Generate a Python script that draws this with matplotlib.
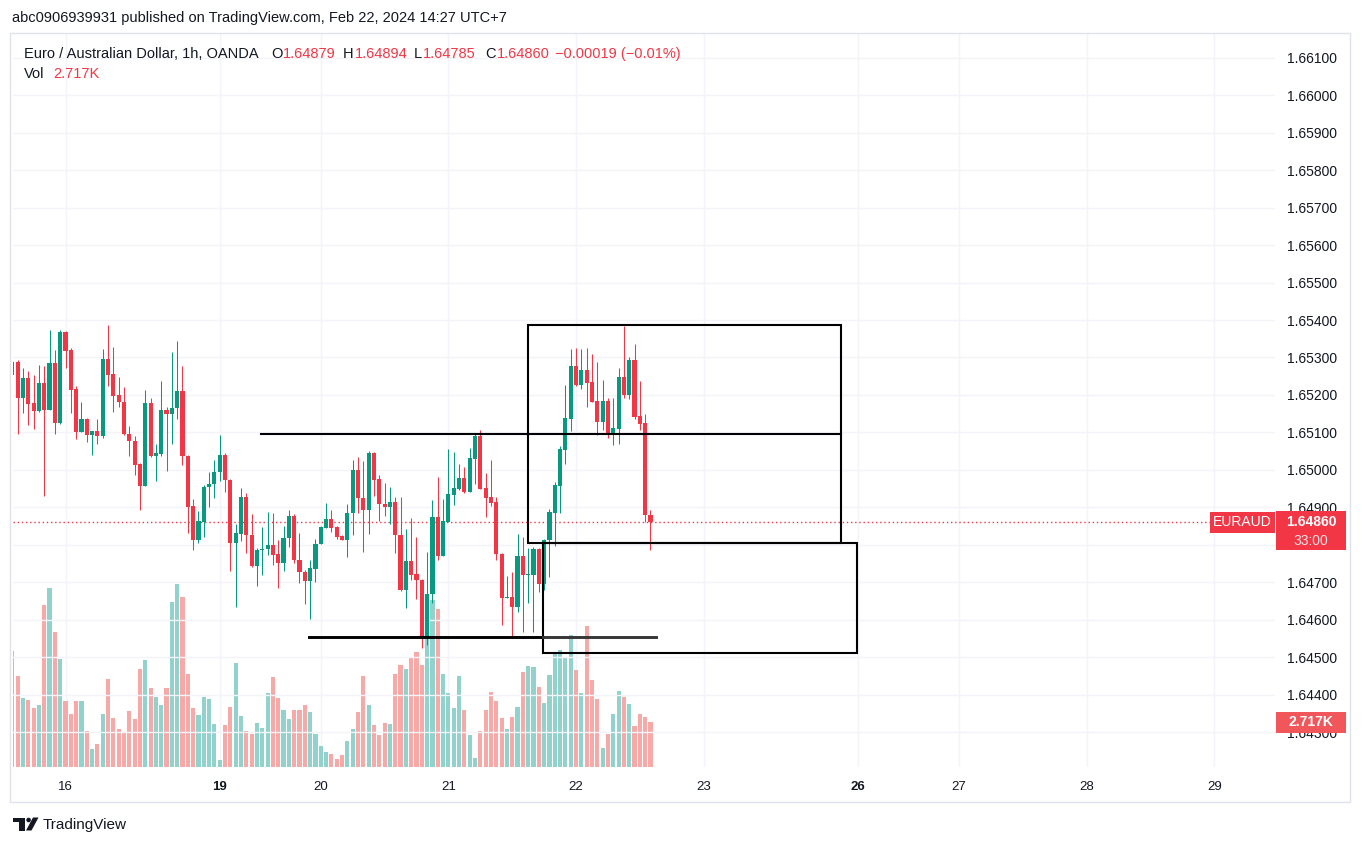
import matplotlib
matplotlib.use("Agg")
import matplotlib.pyplot as plt
from matplotlib.patches import Rectangle, Polygon, Circle
from matplotlib.transforms import IdentityTransform

plt.rcParams['font.family'] = ['Liberation Sans', 'DejaVu Sans']

# ---- data: EURAUD 1h candles, Feb 15 14:00 -> Feb 22 14:00 (UTC+7) ----
opens = [1.65253, 1.65288, 1.65193, 1.65245, 1.65179, 1.65156, 1.65232, 1.65161, 1.65285, 1.65126,
         1.65368, 1.65320, 1.65216, 1.65100, 1.65136, 1.65094, 1.65104, 1.65089, 1.65296, 1.65256,
         1.65200, 1.65181, 1.65095, 1.65077, 1.65016, 1.64958, 1.65179, 1.65038, 1.65043, 1.65160,
         1.65150, 1.65164, 1.65211, 1.65038, 1.64904, 1.64812, 1.64861, 1.64955, 1.64961, 1.64993,
         1.65040, 1.64973, 1.64806, 1.64830, 1.64928, 1.64827, 1.64742, 1.64785, 1.64788, 1.64800,
         1.64776, 1.64750, 1.64817, 1.64877, 1.64760, 1.64728, 1.64702, 1.64736, 1.64801, 1.64845,
         1.64868, 1.64848, 1.64824, 1.64814, 1.64884, 1.65000, 1.64925, 1.64894, 1.65045, 1.64976,
         1.64909, 1.64900, 1.64915, 1.64827, 1.64678, 1.64757, 1.64723, 1.64707, 1.64550, 1.64668,
         1.64875, 1.64769, 1.64861, 1.64934, 1.64950, 1.64979, 1.64941, 1.65030, 1.65091, 1.64952,
         1.64928, 1.64915, 1.64776, 1.64657, 1.64660, 1.64633, 1.64771, 1.64720, 1.64720, 1.64789,
         1.64694, 1.64812, 1.64886, 1.64958, 1.65054, 1.65137, 1.65277, 1.65227, 1.65267, 1.65235,
         1.65184, 1.65128, 1.65184, 1.65093, 1.65109, 1.65248, 1.65200, 1.65293, 1.65144, 1.65125,
         1.64879]
highs = [1.65293, 1.65292, 1.65273, 1.65264, 1.65253, 1.65280, 1.65278, 1.65373, 1.65319, 1.65373,
         1.65370, 1.65324, 1.65224, 1.65181, 1.65139, 1.65104, 1.65136, 1.65323, 1.65387, 1.65328,
         1.65249, 1.65222, 1.65117, 1.65089, 1.65018, 1.65213, 1.65191, 1.65069, 1.65237, 1.65167,
         1.65315, 1.65344, 1.65277, 1.65040, 1.64923, 1.64891, 1.64960, 1.64995, 1.65027, 1.65093,
         1.65046, 1.64975, 1.64856, 1.64952, 1.64938, 1.64883, 1.64792, 1.64848, 1.64888, 1.64886,
         1.64814, 1.64851, 1.64893, 1.64881, 1.64832, 1.64732, 1.64760, 1.64816, 1.64851, 1.64912,
         1.64893, 1.64850, 1.64826, 1.64910, 1.65027, 1.65035, 1.65024, 1.65051, 1.65048, 1.64987,
         1.64965, 1.64955, 1.64928, 1.64928, 1.64843, 1.64872, 1.64822, 1.64708, 1.64780, 1.64920,
         1.64981, 1.64923, 1.65056, 1.65048, 1.65016, 1.65008, 1.65059, 1.65099, 1.65107, 1.64992,
         1.65027, 1.64928, 1.64778, 1.64717, 1.64728, 1.64829, 1.64821, 1.64792, 1.64795, 1.64792,
         1.64815, 1.64896, 1.64968, 1.65064, 1.65227, 1.65323, 1.65325, 1.65323, 1.65325, 1.65309,
         1.65288, 1.65240, 1.65192, 1.65192, 1.65272, 1.65384, 1.65301, 1.65336, 1.65237, 1.65149,
         1.64894]
lows = [1.65249, 1.65096, 1.65153, 1.65121, 1.65108, 1.65155, 1.64929, 1.65161, 1.65096, 1.65123,
        1.65273, 1.65153, 1.65081, 1.65100, 1.65073, 1.65040, 1.65069, 1.65086, 1.65225, 1.65155,
        1.65167, 1.65093, 1.65036, 1.64985, 1.64893, 1.64958, 1.65034, 1.64969, 1.65038, 1.64998,
        1.65068, 1.65135, 1.65013, 1.64831, 1.64785, 1.64804, 1.64822, 1.64902, 1.64926, 1.64970,
        1.64940, 1.64729, 1.64634, 1.64809, 1.64778, 1.64740, 1.64689, 1.64720, 1.64772, 1.64747,
        1.64684, 1.64729, 1.64793, 1.64751, 1.64697, 1.64643, 1.64601, 1.64700, 1.64801, 1.64844,
        1.64833, 1.64815, 1.64812, 1.64766, 1.64825, 1.64884, 1.64780, 1.64830, 1.64929, 1.64864,
        1.64876, 1.64856, 1.64777, 1.64676, 1.64630, 1.64707, 1.64655, 1.64524, 1.64533, 1.64644,
        1.64758, 1.64769, 1.64861, 1.64907, 1.64945, 1.64939, 1.64941, 1.64963, 1.64948, 1.64873,
        1.64904, 1.64758, 1.64585, 1.64657, 1.64550, 1.64620, 1.64566, 1.64644, 1.64566, 1.64673,
        1.64678, 1.64713, 1.64798, 1.64886, 1.65016, 1.65105, 1.65225, 1.65216, 1.65168, 1.65180,
        1.65093, 1.65107, 1.65085, 1.65067, 1.65069, 1.65192, 1.65189, 1.65136, 1.65107, 1.64861,
        1.64785]
closes = [1.65289, 1.65193, 1.65245, 1.65177, 1.65156, 1.65232, 1.65161, 1.65285, 1.65126, 1.65368,
          1.65318, 1.65213, 1.65100, 1.65136, 1.65094, 1.65104, 1.65089, 1.65296, 1.65253, 1.65198,
          1.65180, 1.65095, 1.65076, 1.65014, 1.64958, 1.65179, 1.65038, 1.65045, 1.65160, 1.65150,
          1.65165, 1.65211, 1.65036, 1.64902, 1.64812, 1.64863, 1.64955, 1.64963, 1.64995, 1.65040,
          1.64972, 1.64806, 1.64832, 1.64928, 1.64825, 1.64742, 1.64787, 1.64790, 1.64800, 1.64773,
          1.64750, 1.64819, 1.64877, 1.64758, 1.64726, 1.64702, 1.64738, 1.64803, 1.64848, 1.64868,
          1.64846, 1.64822, 1.64814, 1.64885, 1.65000, 1.64924, 1.64894, 1.65045, 1.64974, 1.64908,
          1.64900, 1.64915, 1.64825, 1.64678, 1.64757, 1.64720, 1.64705, 1.64550, 1.64669, 1.64875,
          1.64769, 1.64863, 1.64936, 1.64952, 1.64979, 1.64941, 1.65032, 1.65091, 1.64950, 1.64925,
          1.64912, 1.64774, 1.64657, 1.64660, 1.64633, 1.64771, 1.64718, 1.64723, 1.64790, 1.64694,
          1.64813, 1.64888, 1.64960, 1.65056, 1.65139, 1.65277, 1.65227, 1.65267, 1.65232, 1.65182,
          1.65128, 1.65184, 1.65093, 1.65112, 1.65248, 1.65200, 1.65293, 1.65141, 1.65123, 1.64879,
          1.64860]
# volume in thousands
volumes = [7.00, 5.49, 4.17, 4.04, 3.56, 3.74, 9.78, 10.80, 8.15, 6.52,
           3.98, 3.20, 3.98, 3.98, 2.17, 1.09, 1.39, 3.20, 5.31, 2.96,
           2.29, 2.05, 3.38, 2.90, 5.92, 6.46, 4.77, 4.23, 3.74, 4.77,
           9.96, 11.05, 10.26, 5.61, 3.56, 3.14, 4.23, 4.10, 2.60, 0.42,
           2.54, 3.62, 6.28, 3.08, 2.17, 1.99, 2.66, 2.35, 4.47, 5.43,
           4.17, 3.44, 2.90, 3.44, 3.44, 3.74, 3.32, 1.99, 1.27, 0.91,
           0.78, 0.48, 0.72, 1.57, 2.29, 3.32, 5.49, 3.74, 2.54, 1.93,
           2.66, 2.60, 5.61, 6.16, 5.92, 6.64, 6.94, 6.16, 9.66, 10.08,
           9.54, 5.61, 4.47, 3.56, 5.49, 3.44, 1.93, 0.54, 2.17, 3.44,
           4.53, 3.98, 2.96, 2.29, 3.02, 3.62, 5.73, 6.10, 6.04, 4.83,
           3.86, 5.55, 6.88, 7.06, 6.58, 7.97, 5.86, 4.47, 8.51, 5.25,
           4.10, 1.15, 1.99, 3.20, 4.59, 4.23, 3.80, 2.47, 3.20, 3.02,
           2.717]

# date ticks (bar index of first bar of each day)
day_index = [10, 39, 58, 82, 106, 130, 159, 178, 202, 226]
day_labels = ['16', '19', '20', '21', '22', '23', '26', '27', '28', '29']
week_start = ['19', '26']
price_levels = [1.643 + 0.001 * k for k in range(19)]

# drawings (bar index, price)
box_upper = (97.0, 155.8, 1.64804, 1.65387)
box_lower = (99.85, 158.8, 1.64511, 1.64804)
line_mid = (46.8, 155.8, 1.65095)
line_low = (55.8, 121.0, 1.64555)

UP = '#089981'
DOWN = '#f23645'
VOL_UP = '#92d2cc'
VOL_DOWN = '#f7a9a7'
GRID = '#f2f4f9'
TXT = '#131722'

W, H = 1364, 846
L, R, T, B = 13, 1275, 34, 767
px = IdentityTransform()

fig = plt.figure(figsize=(W / 100, H / 100), dpi=100)
ax_vol = fig.add_axes([L / W, (H - B) / H, (R - L) / W, (B - T) / H])
ax = ax_vol.twinx()

x = list(range(len(closes)))
up = [c >= o for o, c in zip(opens, closes)]

# volume
ax_vol.bar(x, volumes, width=0.78, color=[VOL_UP if u else VOL_DOWN for u in up], linewidth=0)
ax_vol.set_ylim(0, (B - T) / 16.56)
ax_vol.set_xlim(0.128, 237.43)
for i in day_index:
    ax_vol.axvline(i, color=GRID, lw=1, zorder=0)
ax_vol.set_xticks(day_index)
ax_vol.set_xticklabels(day_labels)
for lab in ax_vol.get_xticklabels():
    if lab.get_text() in week_start:
        lab.set_fontweight('bold')
ax_vol.tick_params(axis='x', length=0, pad=10, labelsize=9.5, labelcolor=TXT)
ax_vol.set_yticks([])
for s in ax_vol.spines.values():
    s.set_visible(False)

# price
for lv in price_levels:
    ax.axhline(lv, color=GRID, lw=1, zorder=0)
ax.vlines(x, lows, highs, colors=[UP if u else DOWN for u in up], lw=0.75, zorder=2)
ax.bar(x, [max(abs(c - o), 0.00003) for o, c in zip(opens, closes)], width=0.78,
       bottom=[min(o, c) for o, c in zip(opens, closes)],
       color=[UP if u else DOWN for u in up], linewidth=0, zorder=3)
ax.axhline(closes[-1], color=DOWN, lw=1, ls=(0, (1, 2)), zorder=1)
ax.set_ylim(1.642067, 1.661635)
ax.set_yticks(price_levels)
ax.set_yticklabels(['' if abs(v - 1.648) < 1e-9 else f'{v:.5f}' for v in price_levels])
ax.tick_params(axis='y', length=0, pad=9, labelsize=10, labelcolor=TXT)
for s in ax.spines.values():
    s.set_visible(False)

# drawings
for x0, x1, y0, y1 in [box_upper, box_lower]:
    ax.add_patch(Rectangle((x0, y0), x1 - x0, y1 - y0, fill=False, edgecolor='black', lw=1.5, zorder=6))
ax.plot([line_mid[0], line_mid[1]], [line_mid[2]] * 2, color='black', lw=1.5, zorder=6)
ax.plot([line_low[0], box_lower[0]], [line_low[2]] * 2, color='black', lw=2.1, zorder=6)
ax.plot([box_lower[0], line_low[1]], [line_low[2]] * 2, color='#363636', lw=2.1, zorder=6)

# frame
fig.add_artist(Rectangle((10, H - 802), 1340, 769, fill=False, edgecolor='#e0e3eb', lw=1, transform=px))

# header and legend
fig.text(12, H - 18, 'abc0906939931 published on TradingView.com, Feb 22, 2024 14:27 UTC+7',
         fontsize=10.5, color=TXT, va='center', transform=px)
renderer = fig.canvas.get_renderer()
LS = 10.5

def pair(xpos, ypos, key, val, size=LS):
    t = fig.text(xpos, H - ypos, key, fontsize=size, color=TXT, va='center', transform=px)
    w = t.get_window_extent(renderer).width
    fig.text(xpos + w + 1, H - ypos, val, fontsize=size, color=DOWN, va='center', transform=px)

fig.text(24, H - 54, 'Euro / Australian Dollar, 1h, OANDA', fontsize=LS, color=TXT, va='center', transform=px)
pair(271, 54, 'O', f'{opens[-1]:.5f}')
pair(343, 54, 'H', f'{highs[-1]:.5f}')
pair(414, 54, 'L', f'{lows[-1]:.5f}')
pair(485, 54, 'C', f'{closes[-1]:.5f}')
chg = closes[-1] - closes[-2]
pct = chg / closes[-2] * 100
fig.text(555, H - 54, f'{chg:.5f} ({pct:.2f}%)'.replace('-', '\u2212'), fontsize=LS, color=DOWN,
         va='center', transform=px)
fig.text(24, H - 74, 'Vol', fontsize=LS, color=TXT, va='center', transform=px)
fig.text(53, H - 74, f'{volumes[-1]:.3f}K', fontsize=LS, color=DOWN, va='center', transform=px)

# price-scale labels
yp = ax.transData.transform((0, closes[-1]))[1]
fig.add_artist(Rectangle((1210, yp - 11), 65, 21, facecolor=DOWN, edgecolor='none', transform=px))
fig.text(1242.5, yp, 'EURAUD', fontsize=10, color='white', ha='center', va='center', transform=px)
fig.add_artist(Rectangle((1276, yp - 28), 70, 39, facecolor=DOWN, edgecolor='none', transform=px))
fig.text(1311, yp, f'{closes[-1]:.5f}', fontsize=10, color='white', ha='center', va='center',
         fontweight='bold', transform=px)
fig.text(1311, yp - 19, '33:00', fontsize=10, color='white', alpha=0.85, ha='center', va='center',
         transform=px)
yv = ax_vol.transData.transform((0, volumes[-1]))[1]
fig.add_artist(Rectangle((1276, yv - 11), 70, 21, facecolor='#f0565a', edgecolor='none', transform=px))
fig.text(1311, yv, f'{volumes[-1]:.3f}K', fontsize=10, color='white', ha='center', va='center',
         fontweight='bold', transform=px)

# TradingView logo
fig.add_artist(Rectangle((13.3, H - 822), 11.7, 4.5, facecolor=TXT, edgecolor='none', transform=px))
fig.add_artist(Rectangle((19.3, H - 830.5), 5.7, 13, facecolor=TXT, edgecolor='none', transform=px))
fig.add_artist(Circle((28.6, H - 820), 2.3, facecolor=TXT, edgecolor='none', transform=px))
fig.add_artist(Polygon([(26, H - 830.5), (31.5, H - 830.5), (38.5, H - 817.5), (33, H - 817.5)],
                       closed=True, facecolor=TXT, edgecolor='none', transform=px))
fig.text(43, H - 825, 'TradingView', fontsize=11, color=TXT, va='center', transform=px)

fig.savefig('out.png', dpi=100, facecolor='white')
